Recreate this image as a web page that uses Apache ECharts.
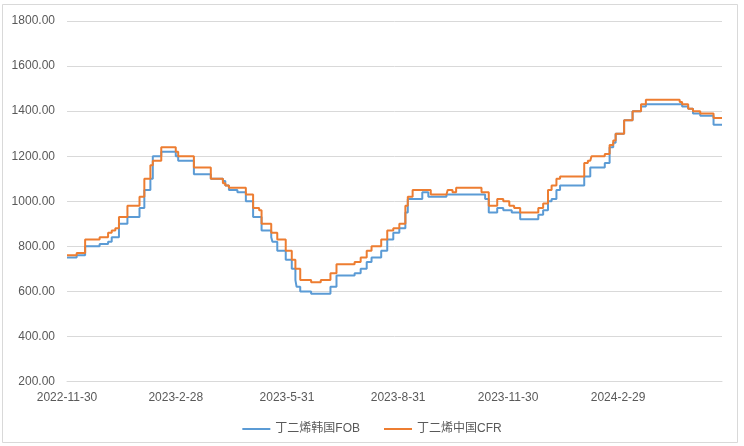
<!DOCTYPE html>
<html>
<head>
    <meta charset="utf-8">
    <script src="https://cdn.jsdelivr.net/npm/echarts@6/dist/echarts.min.js"></script>
    <style>
        body { margin: 0; background: #fff; }
    </style>
</head>
<body>
<div id="main" style="width: 744px;height:446px;"></div>
<script type="text/javascript">
    // 价格变动日期（阶梯线，每个日期起生效的价格）
    var dates = [
        '2022-11-30', '2022-12-08', '2022-12-15', '2022-12-27', '2023-01-03', '2023-01-06',
        '2023-01-09', '2023-01-12', '2023-01-19', '2023-01-29', '2023-02-02', '2023-02-07',
        '2023-02-09', '2023-02-16', '2023-02-28', '2023-03-02', '2023-03-15', '2023-03-29',
        '2023-04-08', '2023-04-10', '2023-04-13', '2023-04-20', '2023-04-27', '2023-05-03',
        '2023-05-08', '2023-05-10', '2023-05-18', '2023-05-19', '2023-05-23', '2023-05-30',
        '2023-06-04', '2023-06-07', '2023-06-08', '2023-06-11', '2023-06-20', '2023-06-28',
        '2023-07-06', '2023-07-11', '2023-07-26', '2023-07-31', '2023-08-05', '2023-08-09',
        '2023-08-17', '2023-08-22', '2023-08-27', '2023-09-01', '2023-09-06', '2023-09-08',
        '2023-09-12', '2023-09-20', '2023-09-25', '2023-09-27', '2023-10-10', '2023-10-11',
        '2023-10-15', '2023-10-18', '2023-11-08', '2023-11-11', '2023-11-14', '2023-11-21',
        '2023-11-26', '2023-12-01', '2023-12-03', '2023-12-05', '2023-12-10', '2023-12-25',
        '2023-12-29', '2024-01-02', '2024-01-05', '2024-01-09', '2024-01-12', '2024-02-01',
        '2024-02-04', '2024-02-06', '2024-02-07', '2024-02-18', '2024-02-22', '2024-02-25',
        '2024-02-27', '2024-03-05', '2024-03-12', '2024-03-19', '2024-03-23', '2024-04-20',
        '2024-04-22', '2024-04-27', '2024-05-01', '2024-05-07', '2024-05-18', '2024-05-25'
    ];
    // 丁二烯韩国FOB
    var fobValues = [
        750, 760, 800, 810, 820, 840,
        840, 900, 930, 970, 1050, 1100,
        1200, 1220, 1200, 1180, 1120, 1100,
        1090, 1070, 1050, 1040, 1000, 930,
        930, 870, 840, 820, 780, 740,
        700, 650, 620, 600, 590, 590,
        620, 670, 680, 700, 730, 750,
        780, 830, 860, 880, 950, 1010,
        1010, 1040, 1020, 1020, 1030, 1030,
        1030, 1030, 1030, 1010, 950, 970,
        960, 960, 950, 950, 920, 940,
        960, 1000, 1010, 1050, 1070, 1110,
        1110, 1150, 1150, 1170, 1240, 1260,
        1300, 1360, 1400, 1420, 1430, 1430,
        1420, 1410, 1390, 1380, 1340, 1340
    ];
    // 丁二烯中国CFR
    var cfrValues = [
        760, 770, 830, 840, 860, 870,
        880, 930, 980, 1020, 1100, 1160,
        1180, 1240, 1220, 1200, 1150, 1100,
        1080, 1070, 1060, 1060, 1030, 970,
        960, 900, 860, 860, 830, 780,
        740, 700, 700, 650, 640, 650,
        680, 720, 730, 750, 780, 800,
        830, 870, 880, 900, 980, 1020,
        1050, 1050, 1050, 1030, 1030, 1050,
        1040, 1060, 1040, 1040, 980, 1010,
        1000, 980, 980, 970, 950, 970,
        990, 1050, 1070, 1100, 1110, 1170,
        1180, 1180, 1200, 1210, 1250, 1270,
        1300, 1360, 1400, 1430, 1450, 1440,
        1430, 1410, 1400, 1390, 1370, 1370
    ];
    var tickDates = ['2022-11-30', '2023-02-28', '2023-05-31', '2023-08-31', '2023-11-30', '2024-02-29'];

    function t(s) {
        var p = s.split('-');
        return new Date(+p[0], +p[1] - 1, +p[2]).getTime();
    }
    function pairs(vals) {
        var out = [];
        for (var i = 0; i < dates.length; i++) {
            out.push([t(dates[i]), vals[i]]);
        }
        return out;
    }

    var font = 'Liberation Sans, Noto Sans CJK SC, sans-serif';
    var myChart = echarts.init(document.getElementById('main'));
    myChart.setOption({
        animation: false,
        backgroundColor: '#fff',
        graphic: [{
            type: 'rect',
            shape: {x: 2.5, y: 4.5, width: 735, height: 438},
            style: {fill: 'none', stroke: '#D9D9D9', lineWidth: 1}
        }],
        grid: {left: 67, right: 22, top: 21, bottom: 64.5},
        legend: {
            data: ['丁二烯韩国FOB', '丁二烯中国CFR'],
            bottom: 6,
            left: 'center',
            icon: 'rect',
            itemWidth: 28,
            itemHeight: 2,
            itemGap: 24,
            textStyle: {color: '#595959', fontSize: 12, fontFamily: font}
        },
        xAxis: {
            // 日期用时间戳放在数值轴上，刻度标签只放在季末
            type: 'value',
            min: t('2022-11-30'),
            max: t('2024-05-25'),
            axisLine: {show: true, lineStyle: {color: '#D9D9D9'}},
            axisTick: {show: false},
            splitLine: {show: false},
            axisLabel: {
                customValues: tickDates.map(t),
                color: '#595959',
                fontSize: 12,
                fontFamily: font,
                margin: 10,
                formatter: function (v) {
                    var d = new Date(v);
                    return d.getFullYear() + '-' + (d.getMonth() + 1) + '-' + d.getDate();
                }
            }
        },
        yAxis: {
            type: 'value',
            min: 200,
            max: 1800,
            interval: 200,
            axisLine: {show: false},
            axisTick: {show: false},
            splitLine: {lineStyle: {color: '#D9D9D9'}},
            axisLabel: {
                color: '#595959',
                fontSize: 12,
                fontFamily: font,
                margin: 12,
                formatter: function (v) { return v.toFixed(2); }
            }
        },
        series: [{
            name: '丁二烯韩国FOB',
            type: 'line',
            step: 'end',
            symbol: 'none',
            data: pairs(fobValues),
            itemStyle: {color: '#5B9BD5'},
            lineStyle: {color: '#5B9BD5', width: 2}
        }, {
            name: '丁二烯中国CFR',
            type: 'line',
            step: 'end',
            symbol: 'none',
            data: pairs(cfrValues),
            itemStyle: {color: '#ED7D31'},
            lineStyle: {color: '#ED7D31', width: 2}
        }]
    });
</script>
</body>
</html>
